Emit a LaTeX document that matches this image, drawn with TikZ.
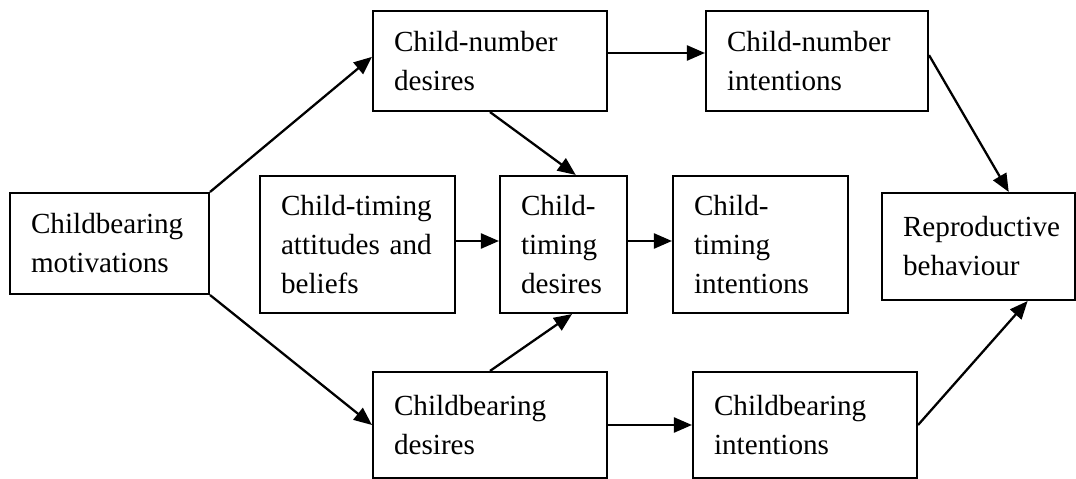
\documentclass[tikz,border=0pt]{standalone}
\usepackage{fontspec}
\setmainfont{Liberation Serif}
\usetikzlibrary{arrows.meta}
\hfuzz=20pt

\begin{document}
\begin{tikzpicture}[x=0.02cm,y=-0.02cm,
box/.style={draw,line width=1.2pt,align=left,inner xsep=0.42cm,inner ysep=0pt,
  font=\fontsize{16.6}{22.2}\selectfont},
arr/.style={line width=1.3pt,-{Triangle[length=0.36cm,width=0.3cm]}}]
\useasboundingbox (0,0) rectangle (1076,479);

\node[box,text width=3.14cm,minimum height=2.02cm] (CM) at (109.5,243.5) {Childbearing\\motivations};

\node[box,text width=3.84cm,minimum height=2cm] (ND) at (490,61) {Child-number\\desires};
\node[box,text width=3.60cm,minimum height=2cm] (NI) at (817,61) {Child-number\\intentions};

\node[box,text width=3.06cm,minimum height=2.74cm] (TA) at (357.5,244.5) {Child-timing\\attitudes and\\beliefs};
\node[box,text width=1.70cm,minimum height=2.74cm] (TD) at (563.5,244.5) {Child-\\timing\\desires};
\node[box,text width=2.66cm,minimum height=2.74cm] (TI) at (760.5,244.5) {Child-\\timing\\intentions};

\node[box,text width=3.02cm,minimum height=2.14cm] (RB) at (978.5,246.5) {Reproductive\\behaviour};

\node[box,text width=3.84cm,minimum height=2.12cm] (BD) at (490,425) {Childbearing\\desires};
\node[box,text width=3.64cm,minimum height=2.12cm] (BI) at (805,425) {Childbearing\\intentions};

% motivations to desires
\draw[arr] (CM.north east) -- (ND.178);
\draw[arr] (CM.south east) -- (BD.west);

% desires to child-timing desires
\draw[arr] (ND.south) -- (TD.80);
\draw[arr] (BD.north) -- (TD.-83);
\draw[arr] ([yshift=0.07cm]TA.east) -- ([yshift=0.07cm]TD.west);
\draw[arr] ([yshift=0.07cm]TD.east) -- ([yshift=0.07cm]TI.west);

% desires to intentions to behaviour
\draw[arr] ([yshift=0.16cm]ND.east) -- ([yshift=0.16cm]NI.west);
\draw[arr] (BD.east) -- (BI.west);
\draw[arr] (NI.3) -- (RB.61);
\draw[arr] (BI.east) -- (RB.-48);
\end{tikzpicture}
\end{document}
